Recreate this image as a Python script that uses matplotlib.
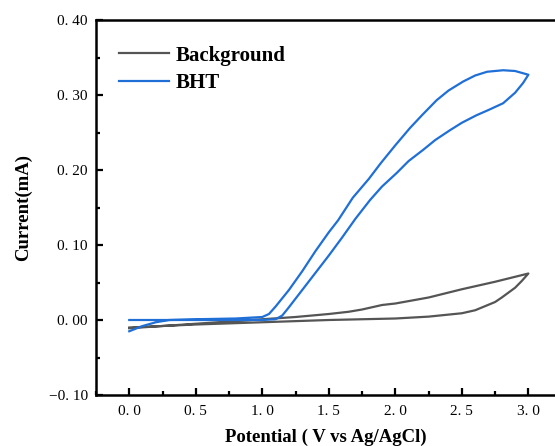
import numpy as np
import matplotlib
matplotlib.use('Agg')
import matplotlib.pyplot as plt
from matplotlib.ticker import MultipleLocator, FuncFormatter

# Background CV loop (forward then reverse)
bgPotential = [0.0, 0.25, 0.5, 0.75, 1.0, 1.25, 1.5, 1.65, 1.75, 1.85, 1.9, 2.0, 2.25, 2.5, 2.75, 3.0,
               2.95, 2.9, 2.8, 2.75, 2.6, 2.5, 2.25, 2.0, 1.5, 1.0, 0.5, 0.0]
bgCurrent   = [-0.011, -0.008, -0.005, -0.002, 0.001, 0.004, 0.008, 0.011, 0.014, 0.018, 0.020, 0.022, 0.030, 0.041, 0.051, 0.062,
               0.052, 0.043, 0.030, 0.024, 0.013, 0.009, 0.0045, 0.002, 0.0, -0.003, -0.006, -0.010]

# BHT CV loop
bhtPotential = [0.0, 0.1, 0.2, 0.3, 0.5, 0.8, 1.0, 1.05, 1.1, 1.2, 1.3, 1.4, 1.5, 1.57, 1.68, 1.8, 1.89, 2.0, 2.11, 2.2,
                2.31, 2.4, 2.51, 2.6, 2.69, 2.81, 2.9, 3.0,
                2.96, 2.9, 2.81, 2.7, 2.61, 2.5, 2.41, 2.3, 2.21, 2.1, 2.01, 1.9, 1.81, 1.7, 1.6, 1.5, 1.4, 1.3,
                1.2, 1.15, 1.1, 1.0, 0.5, 0.0]
bhtCurrent   = [-0.015, -0.008, -0.003, 0.0, 0.001, 0.002, 0.004, 0.008, 0.018, 0.040, 0.065, 0.092, 0.117, 0.133, 0.163, 0.188, 0.209, 0.233, 0.256, 0.273,
                0.293, 0.306, 0.318, 0.326, 0.331, 0.333, 0.332, 0.327,
                0.316, 0.303, 0.289, 0.280, 0.273, 0.263, 0.253, 0.240, 0.227, 0.212, 0.196, 0.178, 0.160, 0.135, 0.110, 0.086, 0.063, 0.040,
                0.017, 0.006, 0.001, 0.0, 0.0, 0.0]

serif = ['Liberation Serif', 'DejaVu Serif']

fig = plt.figure(figsize=(5.55, 4.46), dpi=100)
ax = fig.add_axes([96/555, 51/446, 459/555, 375/446])

ax.plot(bgPotential, bgCurrent, color='#555555', lw=1.6, label='Background')
ax.plot(bhtPotential, bhtCurrent, color='#1f6fd6', lw=1.6, label='BHT')

ax.set_xlim(-0.25, 3.2)
ax.set_ylim(-0.10, 0.40)
ax.xaxis.set_major_locator(MultipleLocator(0.5))
ax.xaxis.set_minor_locator(MultipleLocator(0.25))
ax.yaxis.set_major_locator(MultipleLocator(0.1))
ax.yaxis.set_minor_locator(MultipleLocator(0.05))

def fmtX(v, pos):
    return ('%.1f' % v).replace('.', '. ').replace('-', '\u2212')

def fmtY(v, pos):
    s = '%.2f' % v
    if s == '-0.00':
        s = '0.00'
    return s.replace('.', '. ').replace('-', '\u2212')

ax.xaxis.set_major_formatter(FuncFormatter(fmtX))
ax.yaxis.set_major_formatter(FuncFormatter(fmtY))

ax.tick_params(which='both', direction='in', width=1.6, top=False, right=False, labelsize=11)
ax.tick_params(which='major', length=5)
ax.tick_params(which='minor', length=3)
ax.tick_params(axis='x', pad=7)
ax.tick_params(axis='y', pad=6)
for lab in ax.get_xticklabels() + ax.get_yticklabels():
    lab.set_family(serif)

for side in ['left', 'bottom', 'top']:
    ax.spines[side].set_linewidth(1.8)
ax.spines['right'].set_visible(False)

ax.set_xlabel('Potential ( V vs Ag/AgCl)', family=serif, fontweight='bold', fontsize=13.5, labelpad=8)
ax.set_ylabel('Current(mA)', family=serif, fontweight='bold', fontsize=13.5, labelpad=12)

leg = ax.legend(loc='upper left', bbox_to_anchor=(0.032, 0.954), frameon=False, handlelength=2.4,
                handletextpad=0.3, labelspacing=0.35, borderaxespad=0,
                prop={'family': serif, 'weight': 'bold', 'size': 15})

fig.savefig('out.png', dpi=100)
